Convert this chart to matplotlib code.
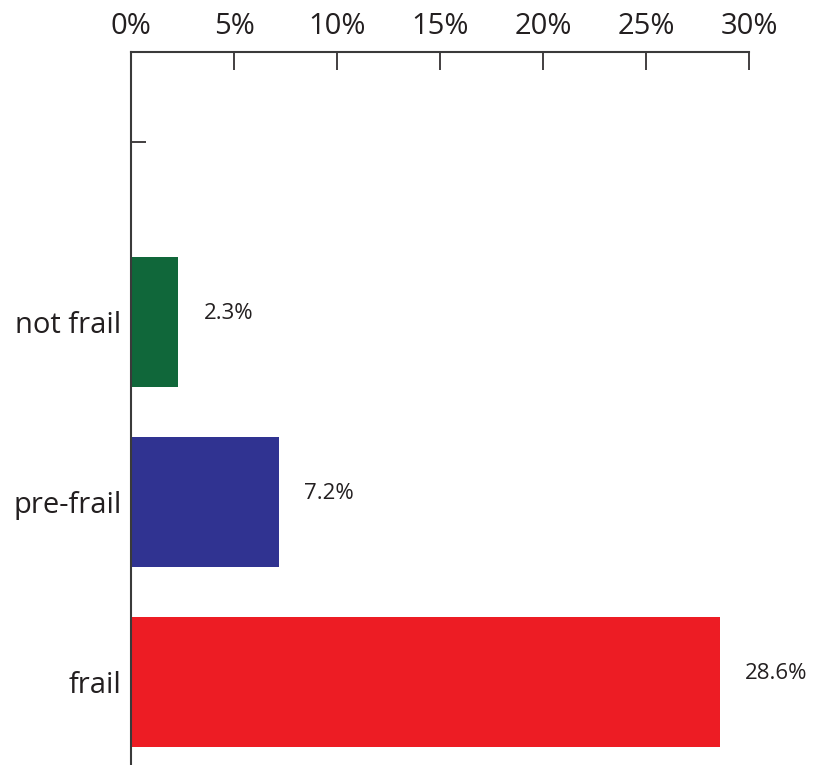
import matplotlib.pyplot as plt

# frailty groups, bottom to top
categories = ["frail", "pre-frail", "not frail"]
values = [28.6, 7.2, 2.3]
colors = ["#ED1C24", "#303391", "#10673A"]
xticks = [0, 5, 10, 15, 20, 25, 30]

plt.rcParams["font.family"] = ["Open Sans", "DejaVu Sans"]
text_color = "#231F20"

fig = plt.figure(figsize=(8.21, 7.65), dpi=100)
ax = fig.add_axes([131 / 821, 0, (749 - 131) / 821, 1 - 52 / 765])

pos = list(range(len(categories)))
ax.barh(pos, values, height=0.72, color=colors)

for p, v in zip(pos, values):
    ax.annotate(f"{v}%", xy=(v, p), xytext=(18, 6), textcoords="offset points",
                ha="left", va="center", fontsize=16, color=text_color)

ax.set_xlim(0, 30)
ax.set_ylim(-0.461, 3.5)

ax.xaxis.tick_top()
ax.set_xticks(xticks)
ax.set_xticklabels([f"{t}%" for t in xticks])
ax.tick_params(axis="x", direction="in", length=13, width=1.2, pad=8,
               labelsize=21, colors=text_color)

ax.set_yticks(pos)
ax.set_yticklabels(categories)
ax.tick_params(axis="y", which="major", length=0, pad=7, labelsize=21,
               labelcolor=text_color)
# lone tick for the empty top slot
ax.set_yticks([3], minor=True)
ax.tick_params(axis="y", which="minor", direction="in", length=11, width=1.2,
               color=text_color)

for side in ["right", "bottom"]:
    ax.spines[side].set_visible(False)
for side in ["top", "left"]:
    ax.spines[side].set_linewidth(1.5)
    ax.spines[side].set_color("#3a3a3a")

plt.savefig("out.png", dpi=100)
